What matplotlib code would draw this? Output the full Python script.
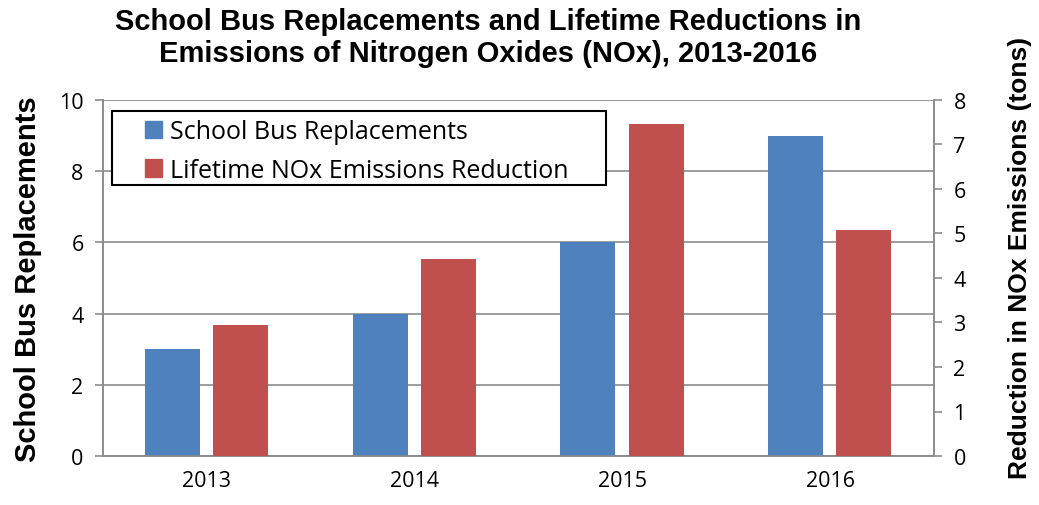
import matplotlib
matplotlib.use("Agg")
import matplotlib.pyplot as plt
import numpy as np
from matplotlib.patches import Patch, Rectangle

years = ["2013", "2014", "2015", "2016"]
bus_replacements = [3, 4, 6, 9]
nox_reduction = [2.94, 4.43, 7.47, 5.08]

blue = "#4F81BD"
red = "#C0504D"
grid_c = "#8C8C8C"

W, H = 1039, 506
fig = plt.figure(figsize=(W/100, H/100), dpi=100)
ax = fig.add_axes([103/W, 1-457/H, (934-103)/W, (457-101)/H])
ax2 = ax.twinx()

x = np.arange(len(years))
w = 0.265
ax.bar(x - 0.166, bus_replacements, w, color=blue, zorder=3)
ax2.bar(x + 0.162, nox_reduction, w, color=red, zorder=3)

ax.set_xlim(-0.5, 3.5)
ax.set_ylim(0, 10)
ax2.set_ylim(0, 8)
ax.set_yticks(range(0, 11, 2))
ax2.set_yticks(range(0, 9))
ax.set_xticks(x)
ax.set_xticklabels(years)
ax.yaxis.grid(True, color=grid_c, linewidth=1.2, zorder=0)
ax.set_axisbelow(True)

tick_font = "Open Sans"
for a in (ax, ax2):
    for s in a.spines.values():
        s.set_color(grid_c)
        s.set_linewidth(1.2)
    a.spines["top"].set_visible(False)
    a.tick_params(axis="both", colors=grid_c, labelcolor="black", labelsize=15.5, length=6, width=1.2)
    for lab in a.get_yticklabels() + a.get_xticklabels():
        lab.set_fontfamily(tick_font)
ax.tick_params(axis="x", length=0, pad=10)
ax.tick_params(axis="y", pad=8)
ax2.tick_params(axis="y", pad=8)

ax.set_ylabel("School Bus Replacements", fontsize=21, fontweight="bold",
              fontfamily="Liberation Sans", labelpad=12)
ax2.set_ylabel("Reduction in NOx Emissions (tons)", fontsize=19, fontweight="bold",
               fontfamily="Liberation Sans")
ax2.yaxis.set_label_coords((1008-103)/831, (457-258)/356)

fig.text(488/W, 1-38/H,
         "School Bus Replacements and Lifetime Reductions in\nEmissions of Nitrogen Oxides (NOx), 2013-2016",
         ha="center", va="center", fontsize=21, fontweight="bold",
         fontfamily="Liberation Sans", linespacing=1.22)

# legend frame
frame = Rectangle((112/W, 1-186/H), (606-112)/W, (186-112)/H, transform=fig.transFigure,
                  facecolor="white", edgecolor="black", linewidth=1.5, zorder=9)
fig.add_artist(frame)

handles = [Patch(color=blue, label="School Bus Replacements"),
           Patch(color=red, label="Lifetime NOx Emissions Reduction")]
leg = fig.legend(handles=handles, loc="upper left", bbox_to_anchor=(145/W, 1-120/H),
                 bbox_transform=fig.transFigure, frameon=False,
                 prop={"family": tick_font, "size": 18}, handlelength=0.68, handleheight=0.68,
                 handletextpad=0.32, borderpad=0, labelspacing=0.55, borderaxespad=0)
leg.set_zorder(10)

fig.savefig("out.png", dpi=100)
